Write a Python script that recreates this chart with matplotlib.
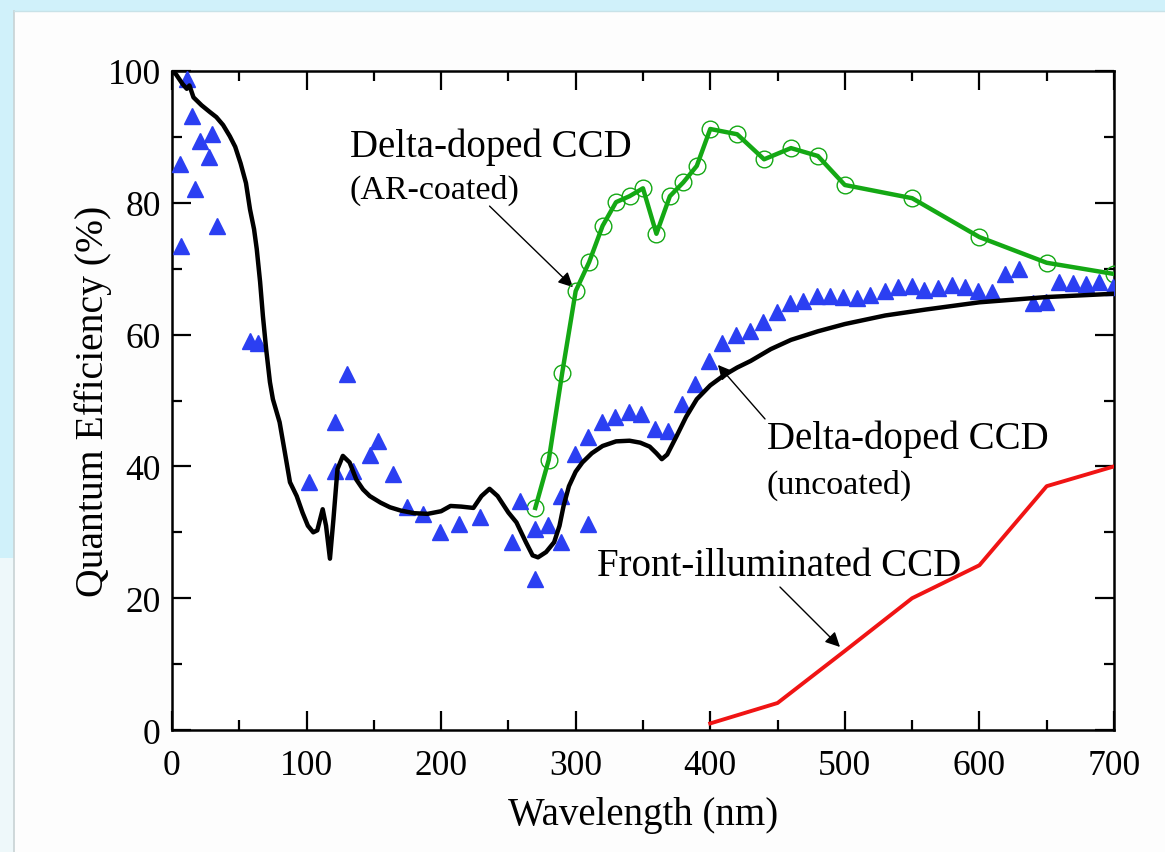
import numpy as np
import matplotlib.pyplot as plt
from matplotlib.patches import Rectangle
from matplotlib.ticker import MultipleLocator

plt.rcParams['font.family'] = ['Liberation Serif', 'DejaVu Serif']
plt.rcParams['mathtext.fontset'] = 'stix'

# Delta-doped CCD, uncoated: model curve
model_wl = [0, 3, 8, 11, 13, 16, 22, 28, 33, 38, 43, 47, 51, 55, 58, 61, 63, 65.5,
            67.6, 70, 72.8, 75, 80, 84, 87.7, 92.7, 97, 101, 105, 108, 112, 114.5,
            117.4, 120, 123, 127, 132, 137, 142, 147, 155, 162, 170, 180, 190, 200,
            207, 215, 224, 230, 236, 242, 250, 256, 263, 268, 272, 278, 284, 288,
            291, 295, 300, 305, 312, 320, 330, 340, 348, 355, 360, 364, 368, 375,
            382, 390, 400, 410, 420, 430, 445, 460, 480, 500, 530, 560, 600, 650, 700]
model_qe = [100, 99.5, 98, 97.3, 97.8, 96, 94.8, 93.8, 93, 91.8, 90.1, 88.5, 86, 83,
            79, 76, 73, 68, 62.8, 57.8, 52.8, 50.2, 46.7, 42, 37.6, 35.5, 33, 31,
            30, 30.3, 33.5, 31, 26, 32, 39.6, 41.6, 40.6, 38, 36.5, 35.5, 34.5,
            33.8, 33.3, 32.9, 32.8, 33.2, 34, 33.9, 33.7, 35.5, 36.6, 35.5, 33,
            31.5, 28.5, 26.5, 26.2, 27, 28.5, 31, 34, 37, 39.2, 40.6, 42, 43.1,
            43.8, 43.9, 43.6, 43, 42, 41.1, 41.8, 44.6, 47.5, 50.2, 52.3, 53.8, 55,
            56, 57.8, 59.2, 60.5, 61.6, 62.9, 63.8, 64.9, 65.7, 66.2]

# Delta-doped CCD, uncoated: measured
meas_wl = [6, 6.7, 11, 14.7, 17, 20.8, 27.5, 29.7, 33.4, 58, 64, 102, 121, 121, 130,
           134.5, 147, 153, 164, 174.5, 186.5, 199, 213, 229, 253, 258.6, 270, 270,
           279.5, 289, 289, 299.5, 309, 309, 319.5, 329, 339.6, 348.5, 359, 368.6,
           379, 389, 399, 409, 419, 429.5, 439, 449.6, 459, 469, 479, 489, 499, 509,
           519, 529.8, 539.5, 550, 558.8, 569, 579.6, 589, 599, 609, 619, 629.4,
           640, 649.5, 659, 669.5, 679, 689, 699]
meas_qe = [85.9, 73.4, 98.8, 93.2, 82.1, 89.4, 87, 90.4, 76.5, 59, 58.7, 37.6, 46.7,
           39.3, 54, 39.3, 41.7, 43.9, 38.8, 33.8, 32.8, 30, 31.3, 32.3, 28.5, 34.8,
           30.5, 22.9, 31.1, 28.5, 35.5, 41.9, 31.3, 44.5, 46.7, 47.5, 48.2, 48,
           45.7, 45.4, 49.5, 52.5, 56, 58.7, 60, 60.6, 61.9, 63.4, 64.8, 65.1, 65.9,
           65.9, 65.7, 65.5, 66, 66.6, 67.2, 67.4, 66.8, 67, 67.5, 67.2, 66.6, 66.5,
           69.2, 70, 64.8, 65, 68, 67.8, 67.7, 68, 67.2]

# Delta-doped CCD, AR-coated
ar_wl = [270, 280, 290, 300, 310, 320, 330, 340, 350, 360, 370, 380, 390, 400, 420,
         440, 460, 480, 500, 550, 600, 650, 700]
ar_qe = [33.7, 41, 54.2, 66.6, 71, 76.5, 80.1, 81, 82.2, 75.3, 81, 83.1, 85.6, 91.2,
         90.4, 86.6, 88.3, 87.1, 82.7, 80.7, 74.8, 70.9, 69.2]

# Front-illuminated CCD
fi_wl = [400, 450, 500, 550, 600, 650, 700]
fi_qe = [1, 4.1, 12, 20, 25, 37, 40]

fig = plt.figure(figsize=(11.65, 8.53), dpi=100)
fig.patch.set_facecolor('#fdfdfd')
# window frame around the panel
fig.patches.append(Rectangle((0, 0.986), 1, 0.014, transform=fig.transFigure,
                             facecolor='#d0f1fa', edgecolor='none'))
fig.patches.append(Rectangle((0, 0.345), 0.012, 0.655, transform=fig.transFigure,
                             facecolor='#d0f1fa', edgecolor='none'))
fig.patches.append(Rectangle((0, 0), 0.012, 0.345, transform=fig.transFigure,
                             facecolor='#eef8fa', edgecolor='none'))
fig.lines.append(plt.Line2D([0.012, 0.012], [0, 0.986], transform=fig.transFigure,
                            color='#c8d2d4', lw=1.2))
fig.lines.append(plt.Line2D([0.012, 1], [0.986, 0.986], transform=fig.transFigure,
                            color='#c8e2e8', lw=1.0))

ax = fig.add_axes([0.1476, 0.1430, 0.8086, 0.7726])
ax.set_facecolor('white')

ax.plot(ar_wl, ar_qe, color='#14a814', lw=3.2, zorder=3)
ax.plot(ar_wl, ar_qe, ls='none', marker='o', ms=12, mfc='none', mec='#14a814',
        mew=1.0, zorder=4)
ax.plot(meas_wl, meas_qe, ls='none', marker='^', ms=11, color='#2b3ff2', mec='#2b3ff2',
        zorder=5)
ax.plot(model_wl, model_qe, color='black', lw=3.2, zorder=6)
ax.plot(fi_wl, fi_qe, color='#f01414', lw=2.8, zorder=3)

ax.set_xlim(0, 700)
ax.set_ylim(0, 100)
ax.xaxis.set_major_locator(MultipleLocator(100))
ax.xaxis.set_minor_locator(MultipleLocator(50))
ax.yaxis.set_major_locator(MultipleLocator(20))
ax.yaxis.set_minor_locator(MultipleLocator(10))
ax.tick_params(which='both', direction='in', top=True, right=True, width=1.6,
               labelsize=25.5)
ax.tick_params(which='major', length=14)
ax.tick_params(which='minor', length=7)
ax.tick_params(axis='x', pad=14)
ax.tick_params(axis='y', pad=8)
for sp in ax.spines.values():
    sp.set_linewidth(1.8)

ax.set_xlabel('Wavelength (nm)', fontsize=28)
ax.set_ylabel('Quantum Efficiency (%)', fontsize=28.5)
ax.xaxis.set_label_coords(0.5, -0.1)
ax.yaxis.set_label_coords(-0.064, 0.5)

arrow = dict(arrowstyle='-|>', color='black', lw=1.0, mutation_scale=22,
             shrinkA=0, shrinkB=0)
ax.text(132, 88.6, 'Delta-doped CCD', fontsize=28, va='center', ha='left')
ax.text(132, 82.1, '(AR-coated)', fontsize=24.5, va='center', ha='left')
ax.annotate('', xy=(298, 67.2), xytext=(236, 79.5), arrowprops=arrow)

ax.text(442, 44.2, 'Delta-doped CCD', fontsize=28, va='center', ha='left')
ax.text(442, 37.3, '(uncoated)', fontsize=24.5, va='center', ha='left')
ax.annotate('', xy=(405.7, 55.4), xytext=(440.7, 47.2), arrowprops=arrow)

ax.text(315.8, 25, 'Front-illuminated CCD', fontsize=28, va='center', ha='left')
ax.annotate('', xy=(496.4, 12.6), xytext=(451.8, 21.7), arrowprops=arrow)

fig.savefig('out.png', dpi=100, facecolor=fig.get_facecolor())
